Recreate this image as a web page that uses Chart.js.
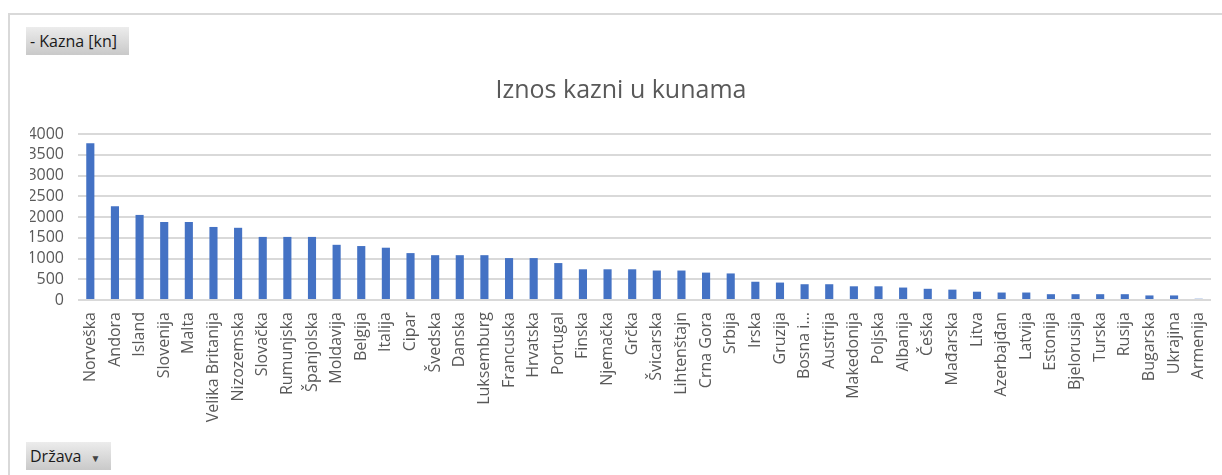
<!DOCTYPE html>
<html>
<head>
<meta charset="utf-8">
<script src="https://cdn.jsdelivr.net/npm/chart.js@4"></script>
<style>
    body { margin: 0; background: #fff; font-family: "Open Sans", sans-serif; }
    #wrap { position: relative; width: 1222px; height: 475px; overflow: hidden; }
    #frame { position: absolute; left: 8px; top: 13px; right: -2px; bottom: -2px; border-left: 2px solid #d9d9d9; border-top: 2px solid #d9d9d9; }
    canvas { position: absolute; left: 0; top: 0; }
    .btn { position: absolute; left: 26px; height: 28px; line-height: 28px; padding: 0 4px; font-size: 16px; color: #1a1a1a;
           background: linear-gradient(#ececec, #c9c9c9); box-sizing: border-box; }
    #btnKazna { top: 27px; width: 103px; }
    #btnDrzava { top: 442px; width: 85px; }
    #btnDrzava span { font-size: 10px; margin-left: 9px; color: #444; }
</style>
</head>
<body>
<div id="wrap">
    <div id="frame"></div>
    <canvas id="barChart" width="1222" height="475"></canvas>
    <div class="btn" id="btnKazna">- Kazna [kn]</div>
    <div class="btn" id="btnDrzava">Država<span>▼</span></div>
</div>
<script>
const countries = ["Norveška", "Andora", "Island", "Slovenija", "Malta", "Velika Britanija", "Nizozemska", "Slovačka",
    "Rumunjska", "Španjolska", "Moldavija", "Belgija", "Italija", "Cipar", "Švedska", "Danska", "Luksemburg",
    "Francuska", "Hrvatska", "Portugal", "Finska", "Njemačka", "Grčka", "Švicarska", "Lihtenštajn", "Crna Gora",
    "Srbija", "Irska", "Gruzija", "Bosna i Hercegovina", "Austrija", "Makedonija", "Poljska", "Albanija", "Češka",
    "Mađarska", "Litva", "Azerbajđan", "Latvija", "Estonija", "Bjelorusija", "Turska", "Rusija", "Bugarska",
    "Ukrajina", "Armenija"];
const kazna = [3780, 2260, 2050, 1880, 1880, 1760, 1740, 1520, 1520, 1520, 1330, 1300, 1260, 1130, 1080, 1080, 1080,
    1010, 1010, 890, 740, 740, 740, 710, 710, 660, 640, 440, 420, 380, 380, 330, 330, 300, 270,
    250, 200, 180, 180, 140, 140, 140, 140, 110, 110, 30];
const yTicks = [0, 500, 1000, 1500, 2000, 2500, 3000, 3500, 4000];

document.addEventListener("DOMContentLoaded", function () {
    const ctx = document.getElementById("barChart").getContext("2d");
    new Chart(ctx, {
        type: "bar",
        data: {
            labels: countries,
            datasets: [
                {
                    label: "Kazna [kn]",
                    data: kazna,
                    backgroundColor: "#4472c4",
                    barPercentage: 0.33,
                    categoryPercentage: 1,
                },
            ],
        },
        options: {
            responsive: false,
            animation: false,
            layout: { padding: { top: 60, right: 10, left: 30, bottom: 0 } },
            plugins: {
                legend: { display: false },
                tooltip: { enabled: false },
                title: {
                    display: true,
                    text: "Iznos kazni u kunama",
                    color: "#595959",
                    font: { family: "Open Sans", size: 25, weight: "normal" },
                    padding: { top: 16, bottom: 28 },
                },
            },
            scales: {
                x: {
                    grid: { display: false },
                    border: { display: false },
                    ticks: {
                        color: "#595959",
                        font: { family: "Open Sans", size: 16 },
                        minRotation: 90,
                        maxRotation: 90,
                        autoSkip: false,
                        padding: 4,
                        callback: function (v) {
                            const s = this.getLabelForValue(v);
                            return s.length > 16 ? s.slice(0, 7) + "..." : s;
                        },
                    },
                    afterFit: (scale) => { scale.height = 175; },
                },
                y: {
                    min: 0,
                    max: 4000,
                    afterBuildTicks: (scale) => { scale.ticks = yTicks.map((v) => ({ value: v })); },
                    grid: { color: "#d9d9d9", lineWidth: 2, drawTicks: false },
                    border: { display: false },
                    ticks: {
                        color: "#595959",
                        font: { family: "Open Sans", size: 16 },
                        padding: 14,
                        autoSkip: false,
                        callback: (v) => String(v),
                    },
                    afterFit: (scale) => { scale.width = 48; },
                },
            },
        },
    });
});
</script>
</body>
</html>
